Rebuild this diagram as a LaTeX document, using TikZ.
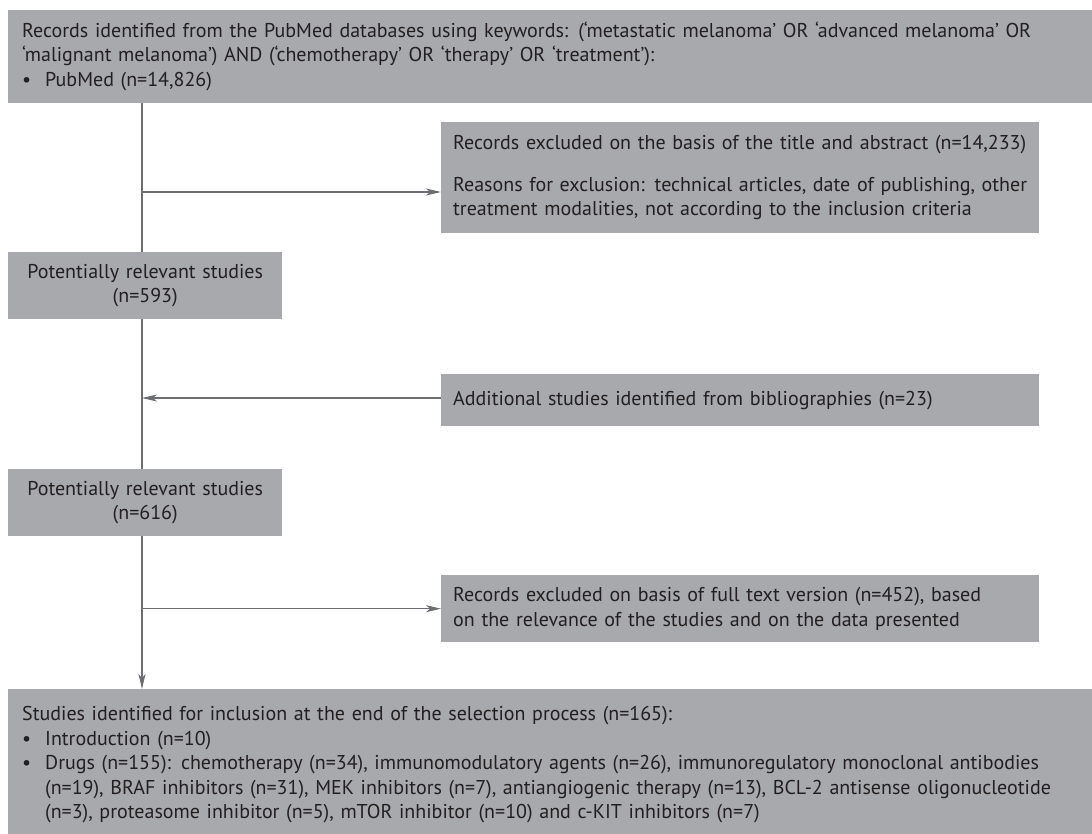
\documentclass[tikz,border=0pt]{standalone}
\usepackage{fontspec}
\setmainfont{PT Sans}
\usetikzlibrary{arrows.meta}
\definecolor{boxgray}{HTML}{A7A9AC}
\definecolor{txt}{HTML}{231F20}
\definecolor{linegray}{HTML}{6D6E71}
\begin{document}
\begin{tikzpicture}[x=1pt,y=-1pt,
  font=\fontsize{20}{24.5}\selectfont,
  box/.style={fill=boxgray, text=txt, anchor=north west, inner ysep=0pt, align=left},
  conn/.style={draw=linegray, line width=1.3pt},
  arr/.style={conn, -{Stealth[length=15pt,width=7pt,inset=4pt]}}]
\useasboundingbox (0,0) rectangle (1092,834);
\node[box, minimum width=1084pt, minimum height=93pt, text width=1056pt, inner xsep=14pt] (top) at (8,10)
 {\begin{tabular}{@{}p{23pt}@{}l@{}}
 \multicolumn{2}{@{}l@{}}{Records identified from the PubMed databases using keywords: (‘metastatic melanoma’ OR ‘advanced melanoma’ OR}\\
 \multicolumn{2}{@{}l@{}}{‘malignant melanoma’) AND (‘chemotherapy’ OR ‘therapy’ OR ‘treatment’):}\\
 •& PubMed (n=14,826)
 \end{tabular}};
\node[box, minimum width=598pt, minimum height=111pt, text width=574pt, inner xsep=12pt] (ex1) at (441,122)
 {Records excluded on the basis of the title and abstract (n=14,233)\\[17pt]
 Reasons for exclusion: technical articles, date of publishing, other\\
 treatment modalities, not according to the inclusion criteria};
\node[box, minimum width=274pt, minimum height=67pt, text width=274pt, inner xsep=0pt, align=center] (p593) at (8,252)
 {Potentially relevant studies\\(n=593)};
\node[box, minimum width=598pt, minimum height=52pt, text width=574pt, inner xsep=12pt] (add) at (441,374)
 {Additional studies identified from bibliographies (n=23)};
\node[box, minimum width=274pt, minimum height=67pt, text width=274pt, inner xsep=0pt, align=center] (p616) at (8,469)
 {Potentially relevant studies\\(n=616)};
\node[box, minimum width=598pt, minimum height=67pt, text width=574pt, inner xsep=12pt] (ex2) at (441,575)
 {Records excluded on basis of full text version (n=452), based\\
 on the relevance of the studies and on the data presented};
\node[box, minimum width=1084pt, minimum height=151pt, text width=1056pt, inner xsep=14pt] (fin) at (8,689)
 {\begin{tabular}{@{}p{23pt}@{}l@{}}
 \multicolumn{2}{@{}l@{}}{Studies identified for inclusion at the end of the selection process (n=165):}\\
 •& Introduction (n=10)\\
 •& Drugs (n=155): chemotherapy (n=34), immunomodulatory agents (n=26), immunoregulatory monoclonal antibodies\\
 & (n=19), BRAF inhibitors (n=31), MEK inhibitors (n=7), antiangiogenic therapy (n=13), BCL-2 antisense oligonucleotide\\
 & (n=3), proteasome inhibitor (n=5), mTOR inhibitor (n=10) and c-KIT inhibitors (n=7)
 \end{tabular}};
\coordinate (v) at (142,0);
\coordinate (j1) at (142,192);
\coordinate (j2) at (142,398);
\draw[conn] (top.south -| v) -- (p593.north -| v);
\draw[conn] (p593.south -| v) -- (p616.north -| v);
\draw[arr] (p616.south -| v) -- (fin.north -| v);
\draw[arr] (j1) -- (j1 -| ex1.west);
\draw[arr] (j2 -| add.west) -- (j2);
\draw[arr] (ex2.west -| v) -- (ex2.west);
\end{tikzpicture}
\end{document}
